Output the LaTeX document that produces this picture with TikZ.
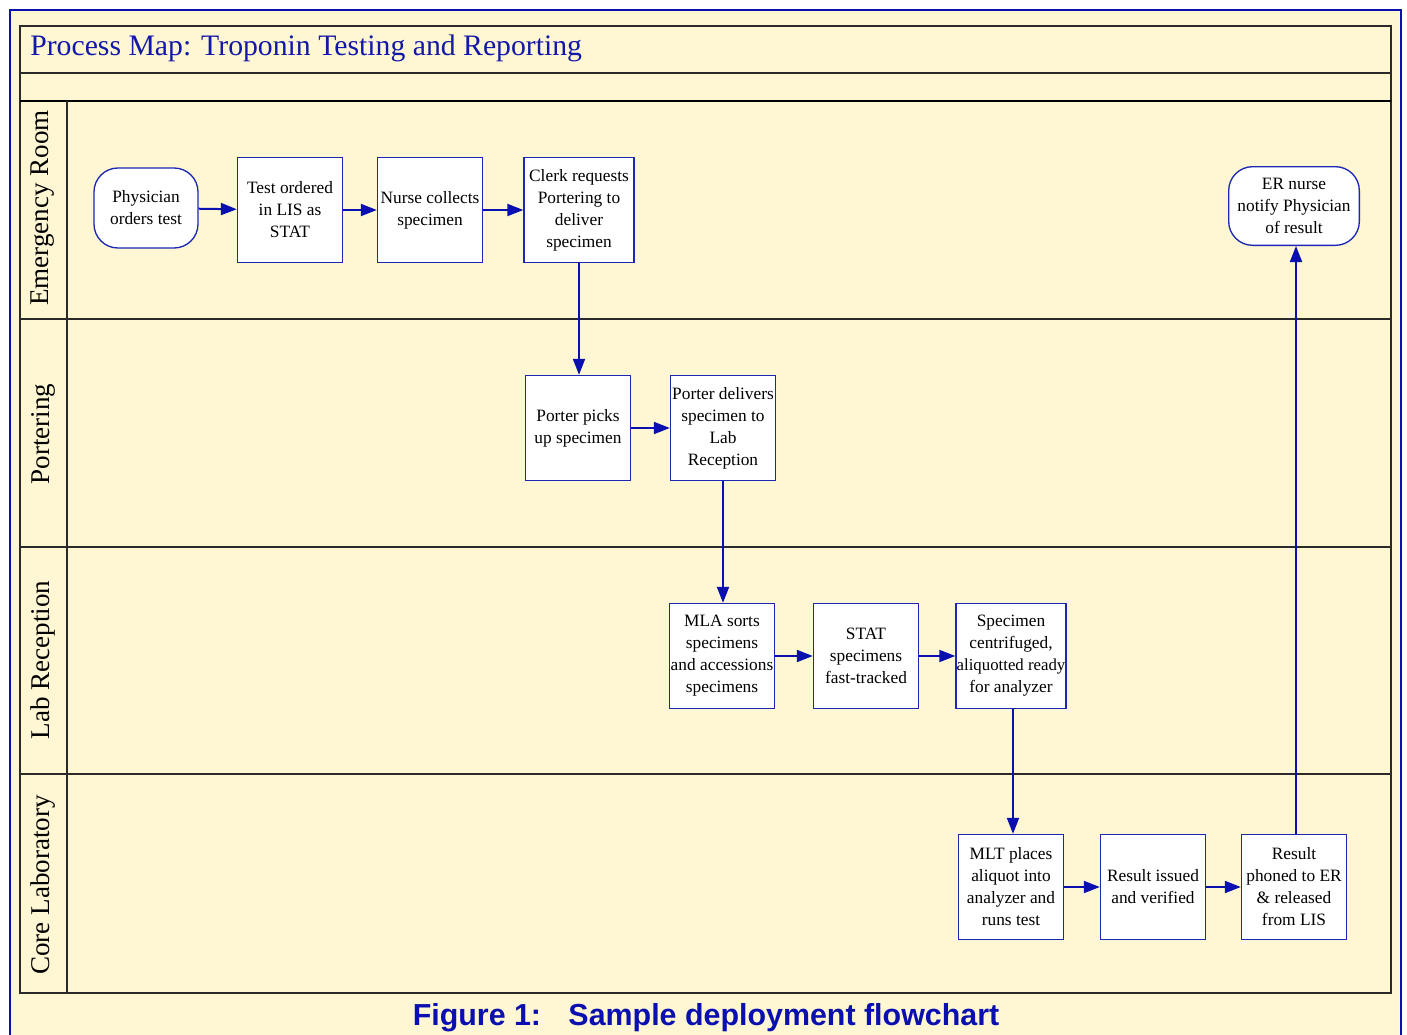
\documentclass[tikz,border=0pt]{standalone}
\usepackage{fontspec}
\newfontfamily\capfont{Liberation Sans}
\newfontfamily\boxfont{Liberation Serif}
\usetikzlibrary{arrows.meta}
\definecolor{cream}{HTML}{FFF6D3}
\definecolor{boxblue}{HTML}{1A28B4}
\definecolor{arrblue}{HTML}{0A10B0}
\definecolor{titleblue}{HTML}{1218A8}
\definecolor{gridline}{HTML}{2A2A2A}
\tikzset{
  stepbox/.style={draw=boxblue, line width=1pt, fill=white, inner sep=0pt, align=center,
    minimum width=78.75pt, minimum height=78.75pt, font=\boxfont\fontsize{13}{16.5}\selectfont},
  widebox/.style={stepbox, minimum width=82.5pt},
  termbox/.style={stepbox, rounded corners=18pt},
  flow/.style={draw=arrblue, line width=1.5pt, -{Triangle[length=12pt,width=9pt]}},
  lanelabel/.style={rotate=90, font=\boxfont\fontsize{20.3}{24}\selectfont, inner sep=0pt},
  grid/.style={draw=gridline, line width=1.1pt}
}
\begin{document}
\begin{tikzpicture}[x=0.75pt, y=-0.75pt]
\useasboundingbox (0,0) rectangle (1407,1035);
\fill[white] (0,0) rectangle (1407,1035);
% outer frame
\draw[draw=arrblue, line width=2.2pt, fill=cream] (10,10) rectangle (1401,1060);
% table
\draw[grid] (20,26) rectangle (1391,993);
\draw[grid] (20,73) -- (1391,73);
\draw[draw=black, line width=1.8pt] (20,101) -- (1391,101);
\draw[grid] (20,319) -- (1391,319);
\draw[grid] (20,547) -- (1391,547);
\draw[grid] (20,774) -- (1391,774);
\draw[grid] (67,101) -- (67,993);
% title
\node[anchor=west, inner sep=0pt, text=titleblue, font=\boxfont\fontsize{22.3}{25}\selectfont] (title) at (30,48) {Process Map: Troponin Testing and Reporting};
% lane labels
\node[lanelabel] (lane1) at (43,208) {Emergency Room};
\node[lanelabel] (lane2) at (43,434) {Portering};
\node[lanelabel] (lane3) at (43,660) {Lab Reception};
\node[lanelabel] (lane4) at (43,885) {Core Laboratory};
% nodes
\node[termbox, minimum width=78pt, minimum height=60pt] (phys) at (146,208) {Physician\\orders test};
\node[stepbox] (lis) at (290,210) {Test ordered\\in LIS as\\STAT};
\node[stepbox] (nurse) at (430,210) {Nurse collects\\specimen};
\node[widebox] (clerk) at (579,210) {Clerk requests\\Portering to\\deliver\\specimen};
\node[termbox, minimum width=98pt, minimum height=59pt] (ernurse) at (1294,206) {ER nurse\\notify Physician\\of result};
\node[stepbox] (pick) at (578,428) {Porter picks\\up specimen};
\node[stepbox] (deliver) at (723,428) {Porter delivers\\specimen to\\Lab\\Reception};
\node[stepbox] (mla) at (722,656) {MLA sorts\\specimens\\and accessions\\specimens};
\node[stepbox] (stat) at (866,656) {STAT\\specimens\\fast-tracked};
\node[widebox] (centri) at (1011,656) {Specimen\\centrifuged,\\{\fontsize{12.6}{16.5}\selectfont aliquotted ready}\\for analyzer};
\node[stepbox] (mlt) at (1011,887) {MLT places\\aliquot into\\analyzer and\\runs test};
\node[stepbox] (issued) at (1153,887) {Result issued\\and verified};
\node[stepbox] (phoned) at (1294,887) {Result\\phoned to ER\\\& released\\from LIS};
% connectors
\draw[flow] (phys) -- (lis);
\draw[flow] (lis) -- (nurse);
\draw[flow] (nurse) -- (clerk);
\draw[flow] (clerk.south) -- (clerk.south |- pick.north);
\draw[flow] (pick) -- (deliver);
\draw[flow] (deliver.south) -- (deliver.south |- mla.north);
\draw[flow] (mla) -- (stat);
\draw[flow] (stat) -- (centri);
\draw[flow] ([xshift=1.5pt]centri.south) -- ([xshift=1.5pt]centri.south |- mlt.north);
\draw[flow] (mlt) -- (issued);
\draw[flow] (issued) -- (phoned);
\draw[flow] ([xshift=1.5pt]phoned.north) -- ([xshift=1.5pt]phoned.north |- ernurse.south);
% caption
\node[font=\capfont\bfseries\fontsize{22.8}{26}\selectfont, text=arrblue, inner sep=0pt] (caption) at (706,1018) {Figure 1:\hspace{0.9em}Sample deployment flowchart};
\end{tikzpicture}
\end{document}
